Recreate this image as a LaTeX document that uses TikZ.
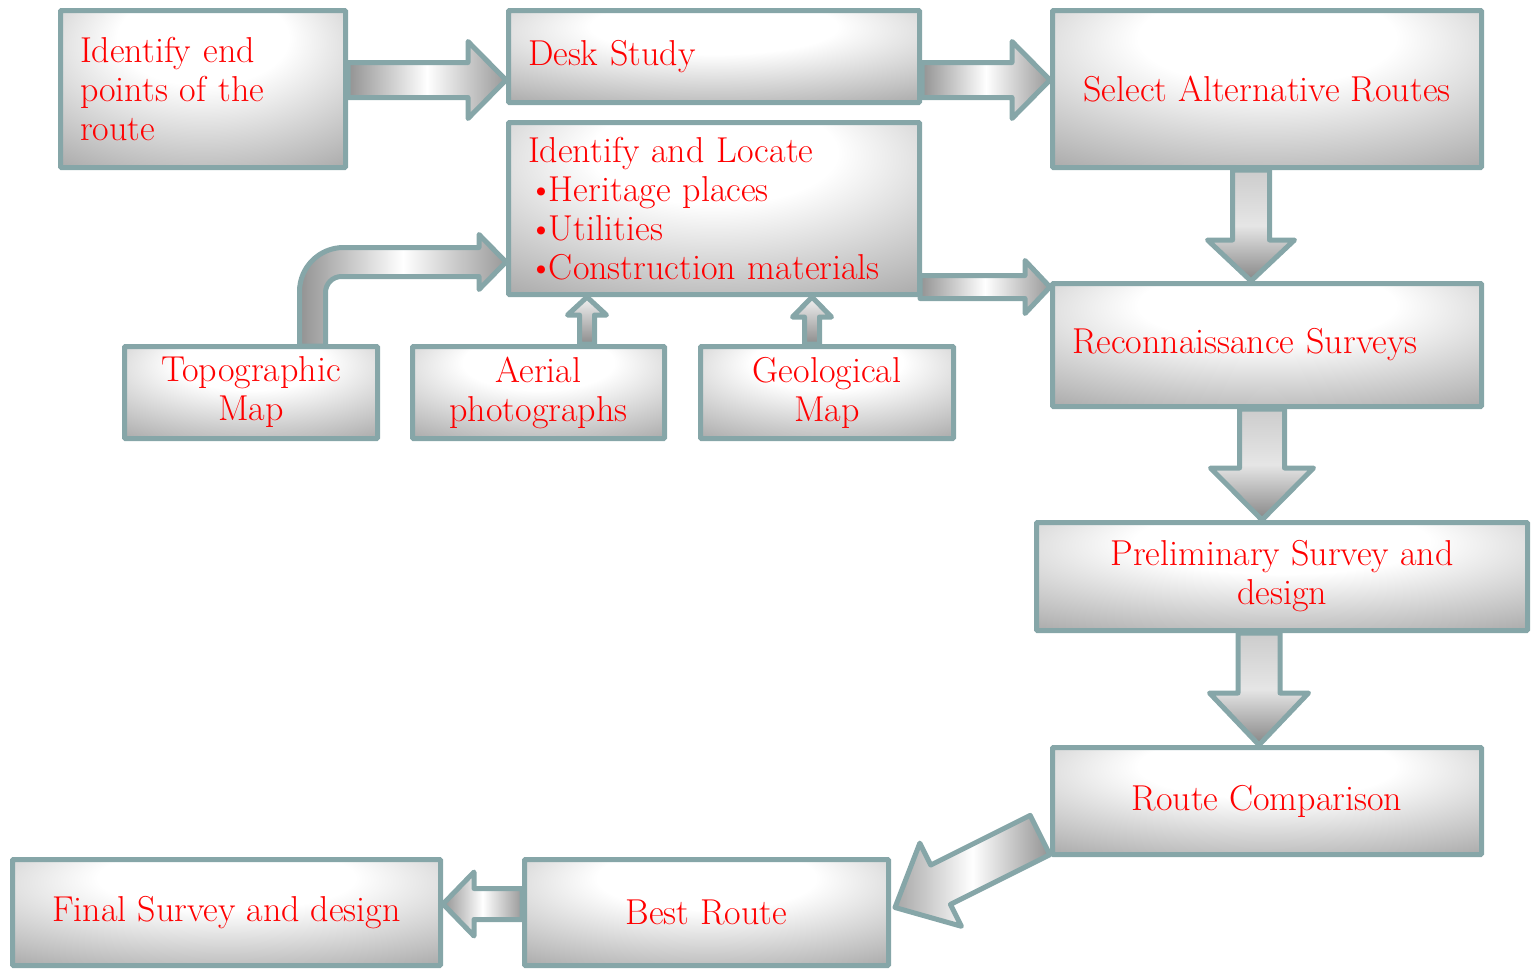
\documentclass[tikz,border=0pt]{standalone}
\usepackage{tikz}
\usetikzlibrary{calc,backgrounds}
\definecolor{edgeteal}{RGB}{134,166,168}
\pgfdeclareradialshading{stageshade}{\pgfpoint{0bp}{20bp}}{%
  color(0bp)=(white); color(15bp)=(white); color(36bp)=(gray!50);
  color(52bp)=(gray!90); color(80bp)=(gray!95)}
\tikzset{
  stage/.style={draw=edgeteal, line width=2.5pt, shading=stageshade,
    text=red, font=\fontsize{18}{19.5}\selectfont, align=center,
    inner sep=0pt, rounded corners=0.5pt},
  leftstage/.style={stage, align=left, inner xsep=9.75pt},
  blockarrow/.style={draw=edgeteal, line width=2.5pt, line join=round},
  rightshade/.style={left color=gray!85, right color=gray!80, middle color=white},
  downshade/.style={top color=gray!40, bottom color=gray!95, middle color=white!80!gray},
  upshade/.style={top color=white!90!gray, bottom color=gray!90},
}
% fat arrow: [style]{from}{to}{half shaft}{half head}{head length}
\newcommand\blockarrow[6][]{%
  \coordinate (bahead) at ($(#3)!#6!(#2)$);
  \path[blockarrow,#1] ($(#2)!#4!90:(#3)$) -- ($(bahead)!#4!90:(#3)$)
    -- ($(bahead)!#5!90:(#3)$) -- (#3) -- ($(bahead)!#5!-90:(#3)$)
    -- ($(bahead)!#4!-90:(#3)$) -- ($(#2)!#4!-90:(#3)$) -- cycle;
}
\newcommand\itembullet{\textbullet\kern-2.5pt}
\begin{document}
\begin{tikzpicture}[x=0.5pt, y=-0.5pt]
\useasboundingbox (0,0) rectangle (1531,970);
% the stages of the route survey
\node[leftstage, text width=123pt, minimum height=78.5pt] (ident) at (203,89)
  {Identify end\\points of the\\route};
\node[leftstage, text width=186pt, minimum height=46pt] (desk) at (714,56.5)
  {Desk Study};
\node[stage, minimum width=214.5pt, minimum height=78.5pt] (select) at (1267,89)
  {Select Alternative Routes};
\node[leftstage, text width=186pt, minimum height=86pt] (locate) at (714,208.5)
  {Identify and Locate\\\itembullet Heritage places\\\itembullet Utilities\\\itembullet Construction materials};
\node[leftstage, text width=195pt, minimum height=61.5pt] (recon) at (1267,345)
  {Reconnaissance Surveys};
\node[stage, minimum width=126.5pt, minimum height=46pt] (topo) at (251,392.5)
  {Topographic\\Map};
\node[stage, minimum width=126pt, minimum height=46pt] (aerial) at (538.5,392.5)
  {Aerial\\photographs};
\node[stage, minimum width=126.5pt, minimum height=46pt] (geo) at (827,392.5)
  {Geological\\Map};
\node[stage, minimum width=245.5pt, minimum height=54pt] (prelim) at (1282,576.5)
  {Preliminary Survey and\\design};
\node[stage, minimum width=214.5pt, minimum height=53.5pt] (route) at (1267,801)
  {Route Comparison};
\node[stage, minimum width=182pt, minimum height=53pt] (best) at (706.5,912.5)
  {Best Route};
\node[stage, minimum width=214pt, minimum height=53pt] (final) at (226.5,912.5)
  {Final Survey and design};

% block arrows go behind the boxes
\begin{pgfonlayer}{background}
\coordinate (desktip) at ($(desk.west)+(0,23.5)$);
\coordinate (desktail) at (ident.east |- desktip);
\blockarrow[rightshade]{desktail}{desktip}{8.75pt}{19.25pt}{19pt}
\coordinate (selecttip) at ($(select.west)+(0,-9)$);
\coordinate (selecttail) at (desk.east |- selecttip);
\blockarrow[rightshade]{selecttail}{selecttip}{8.75pt}{19.25pt}{19pt}
\coordinate (recontip) at ($(recon.west)+(0,-58)$);
\coordinate (recontail) at ($(locate.east |- recontip)+(-2,0)$);
\blockarrow[rightshade]{recontail}{recontip}{5.75pt}{13.25pt}{12.5pt}
\coordinate (selout) at ($(select.south)+(-16,0)$);
\coordinate (recin) at (selout |- recon.north);
\blockarrow[downshade]{selout}{recin}{9.25pt}{21.75pt}{20.5pt}
\coordinate (recout) at ($(recon.south)+(-5,0)$);
\coordinate (prelin) at (recout |- prelim.north);
\blockarrow[downshade]{recout}{prelin}{11.25pt}{25.75pt}{26pt}
\coordinate (prelout) at ($(prelim.south)+(-23,0)$);
\coordinate (routein) at (prelout |- route.north);
\blockarrow[downshade]{prelout}{routein}{10.5pt}{24.75pt}{26pt}
\coordinate (aerout) at ($(aerial.north)+(48.5,0)$);
\coordinate (aerin) at (aerout |- locate.south);
\blockarrow[upshade]{aerout}{aerin}{3.75pt}{9.75pt}{9pt}
\coordinate (geoout) at ($(geo.north)+(-15,0)$);
\coordinate (geoin) at (geoout |- locate.south);
\blockarrow[upshade]{geoout}{geoin}{3.75pt}{9.75pt}{10pt}
\coordinate (finaltip) at ($(final.east)+(0,-8.5)$);
\coordinate (finaltail) at (best.west |- finaltip);
\blockarrow[rightshade]{finaltail}{finaltip}{7.75pt}{16pt}{15.5pt}
\coordinate (routetail) at ($(route.south west)+(-10,-22)$);
\coordinate (besttip) at ($(best.east)+(4,-5)$);
\blockarrow[left color=gray!70, right color=gray!85, middle color=white]{routetail}{besttip}{11pt}{23.25pt}{25.5pt}
% bent arrow from the topographic map
\coordinate (topotip) at ($(locate.west)+(0,53.5)$);
\path[blockarrow, rightshade] ($(topo.north west)+(177.5,2)$)
  [rounded corners=22pt] -- ($(topo.north west)+(177.5,-96.5)$)
  [sharp corners] -- ($(topotip)+(-27,-14.5)$) -- ($(topotip)+(-27,-27.5)$)
  -- (topotip) -- ($(topotip)+(-27,27.5)$) -- ($(topotip)+(-27,14.5)$)
  [rounded corners=8pt] -- ($(topo.north west)+(203.5,-67.5)$)
  [sharp corners] -- ($(topo.north west)+(203.5,2)$) -- cycle;
\end{pgfonlayer}
\end{tikzpicture}
\end{document}
